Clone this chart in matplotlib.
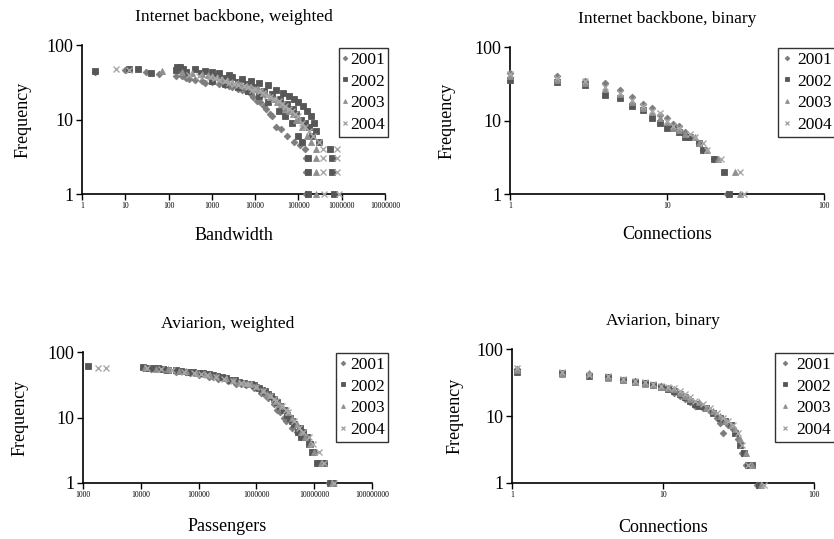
import numpy as np
import matplotlib
matplotlib.use("Agg")
from matplotlib import pyplot as plt
from matplotlib.ticker import FixedLocator, FixedFormatter, NullLocator

plt.rcParams['font.family'] = ['Liberation Serif', 'DejaVu Serif']

years = ['2001', '2002', '2003', '2004']

# Internet backbone, weighted (bandwidth, frequency)
ibw_x = {
    '2001': [2, 10, 30, 60, 150, 250, 400, 600, 1000, 1500, 2500, 4000, 6000, 9000, 13000,
             18000, 25000, 30000, 40000, 55000, 80000, 110000, 140000, 150000, 150000, 150000,
             200, 300, 700, 2000, 3000, 5000, 8000, 11000, 16000, 22000],
    '2002': [2, 12, 20, 40, 160, 180, 220, 400, 700, 1000, 1500, 2500, 3000, 5000, 8000, 12000,
             20000, 30000, 45000, 60000, 80000, 100000, 130000, 160000, 200000, 230000, 260000,
             300000, 170000, 170000, 170000, 550000, 600000, 600000, 650000,
             1000, 2000, 4000, 7000, 12000, 20000, 35000, 50000, 70000, 100000, 120000,
             150, 250, 550, 1300, 2000, 4000, 6500, 10000, 16000, 25000, 38000, 55000,
             75000, 90000, 115000, 140000, 180000, 210000],
    '2003': [70, 200, 350, 600, 1000, 1700, 3000, 5000, 8000, 12000, 18000, 27000, 40000, 60000,
             90000, 120000, 160000, 200000, 250000, 250000, 250000, 250000,
             800, 1300, 2200, 4000, 6500, 10000, 15000, 22000, 32000, 50000, 75000, 105000],
    '2004': [6, 12, 300, 500, 900, 1500, 2500, 4000, 7000, 10000, 15000, 22000, 35000, 50000,
             70000, 100000, 140000, 180000, 220000, 300000, 370000, 370000, 370000, 400000,
             800000, 800000, 800000, 850000,
             1200, 2000, 3200, 5500, 8500, 13000, 19000, 28000, 42000, 60000, 85000, 120000],
}
ibw_y = {
    '2001': [44, 46, 43, 41, 39, 36, 34, 33, 32, 30, 28, 26, 24, 20, 17,
             14, 11, 8, 7.5, 6, 5, 4.5, 4, 3, 2, 1,
             38, 35, 31, 29, 27, 25, 22, 18, 15, 12],
    '2002': [45, 47, 48, 42, 51, 50, 48, 47, 45, 44, 42, 40, 37, 35, 33, 31,
             29, 25, 23, 21, 19, 17, 15, 13, 11, 9, 7,
             5, 3, 2, 1, 4, 3, 2, 1,
             33, 30, 27, 24, 21, 17, 13, 11, 9, 6, 5,
             46, 43, 42, 39, 36, 32, 30, 27, 24, 22, 19, 16,
             14, 12, 10, 9, 8, 6],
    '2003': [45, 44, 42, 41, 38, 35, 32, 29, 27, 25, 22, 19, 16, 13,
             10, 8, 6, 5, 4, 3, 2, 1,
             40, 37, 34, 31, 28, 26, 23, 20, 17, 14, 12, 10],
    '2004': [47, 46, 40, 39, 37, 34, 31, 29, 27, 26, 23, 20, 18, 15,
             13, 11, 8, 7, 6, 5, 4, 3, 2, 1,
             4, 3, 2, 1,
             36, 33, 30, 28, 25, 24, 21, 19, 16, 14, 12, 9],
}

# Internet backbone, binary (connections, frequency)
ibb_x = {
    '2001': [1, 2, 3, 4, 5, 6, 7, 8, 9, 10, 11, 12, 13, 14, 16, 17, 20, 24],
    '2002': [1, 2, 3, 4, 5, 6, 7, 8, 9, 10, 11, 12, 13, 14, 16, 17, 20, 23, 25],
    '2003': [1, 2, 3, 4, 5, 6, 7, 8, 9, 10, 11, 12, 13, 15, 16, 18, 21, 27, 29],
    '2004': [1, 2, 3, 4, 5, 6, 7, 8, 9, 10, 11, 12, 14, 15, 17, 18, 22, 29, 31],
}
ibb_y = {
    '2001': [45, 40, 35, 32, 26, 21, 17, 15, 12, 11, 9, 8.5, 7, 6, 5, 4, 3, 1],
    '2002': [36, 33, 30, 22, 20, 16, 14, 11, 9.3, 8, 8, 7, 6, 6, 5, 4, 3, 2, 1],
    '2003': [40, 36, 32, 27, 23, 18, 15, 13, 11, 9.5, 8, 7.5, 6.5, 6, 5, 4, 3, 2, 1],
    '2004': [43, 38, 34, 29, 24, 19, 16, 13.5, 12.5, 10, 8.5, 8, 6.5, 6, 5, 4, 3, 2, 1],
}

# Aviarion, weighted (passengers, frequency)
avw_x = {
    '2001': [11000, 15000, 25000, 40000, 70000, 100000, 150000, 220000, 320000, 450000, 650000,
             900000, 1200000, 1600000, 2000000, 2600000, 3300000, 4200000, 5000000, 6000000,
             7000000, 8000000, 10000000, 13000000, 18000000,
             60000, 180000, 550000, 1400000, 2300000, 3000000],
    '2002': [1200, 11000, 13000, 20000, 30000, 50000, 80000, 120000, 180000, 250000, 350000,
             500000, 700000, 900000, 1100000, 1400000, 1800000, 2300000, 3000000, 3800000,
             4500000, 5200000, 6500000, 7500000, 8500000, 9500000, 12000000, 14000000,
             19000000, 21000000,
             16000, 24000, 40000, 65000, 100000, 150000, 210000, 300000, 420000, 600000,
             800000, 1000000, 1250000, 1600000, 2000000, 2600000, 3400000, 4200000, 5600000,
             6000000, 8000000, 9000000, 11000000, 13000000, 15000000],
    '2003': [12000, 18000, 30000, 60000, 90000, 130000, 200000, 300000, 400000, 600000, 800000,
             1000000, 1300000, 1700000, 2200000, 2800000, 3500000, 4200000, 5000000, 6000000,
             7000000, 8500000, 10000000, 13000000, 20000000,
             45000, 160000, 500000, 1500000, 2500000],
    '2004': [1800, 2500, 13000, 22000, 35000, 55000, 85000, 140000, 200000, 280000, 400000,
             550000, 750000, 1000000, 1300000, 1700000, 2200000, 2800000, 3500000, 4500000,
             5500000, 6500000, 8000000, 9500000, 12000000, 15000000, 22000000,
             110000, 650000, 2000000, 3200000],
}
avw_y = {
    '2001': [57, 55, 53, 50, 47, 45, 42, 39, 36, 33, 31, 28, 24, 20, 16, 12, 9, 7, 6, 5, 5, 4, 3, 2, 1,
             49, 41, 32, 22, 13, 10],
    '2002': [61, 60, 57, 58, 54, 52, 49, 47, 44, 41, 38, 35, 33, 31, 28, 25, 21, 17, 13, 10,
             8, 6, 6, 5, 4, 3, 2, 2, 1, 1,
             58, 55, 53, 50, 48, 46, 43, 40, 37, 34, 32, 29, 26, 23, 19, 15, 11, 9, 7,
             5, 4, 3, 2, 2, 2],
    '2003': [59, 56, 55, 51, 48, 46, 43, 40, 37, 34, 32, 30, 26, 22, 18, 15, 12, 10, 8, 6, 5, 4, 3, 2, 1,
             52, 44, 35, 23, 16],
    '2004': [58, 58, 58, 56, 53, 50, 48, 45, 42, 39, 36, 34, 32, 29, 25, 21, 18, 15, 12, 9,
             7, 6, 5, 4, 3, 2, 1,
             46, 33, 19, 13],
}

# Aviarion, binary (connections, frequency)
avb_x = {
    '2001': [1.08, 2.16, 3.24, 4.32, 5.4, 6.48, 7.56, 8.64, 9.72, 10.8, 11.9, 13.0, 14.0, 15.1,
             16.2, 18.4, 20.5, 22.7, 23.8, 24.8, 27.0, 29.2, 31.3, 33.5, 35.6, 37.8, 42.1],
    '2002': [1.08, 2.16, 3.24, 4.32, 5.4, 6.48, 7.56, 8.64, 9.72, 10.8, 11.9, 13.0, 14.0, 15.1,
             16.2, 17.3, 19.4, 21.6, 23.8, 25.9, 28.1, 30.2, 32.4, 34.6, 36.7, 38.9, 43.2],
    '2003': [1.08, 2.16, 3.24, 4.32, 5.4, 6.48, 7.56, 8.64, 9.72, 10.8, 11.9, 13.0, 14.0, 15.1,
             17.3, 19.4, 21.6, 23.8, 25.9, 28.1, 30.2, 32.4, 35.6, 38.9, 44.3],
    '2004': [1.08, 2.16, 3.24, 4.32, 5.4, 6.48, 7.56, 8.64, 9.72, 10.8, 11.9, 13.0, 14.0, 15.1,
             16.2, 18.4, 20.5, 22.7, 24.8, 27.0, 29.2, 31.3, 33.5, 36.7, 46.4],
}
avb_y = {
    '2001': [50, 43, 42, 38, 35, 33, 31, 29, 28, 26, 22, 20, 18, 16,
             14, 13, 12, 9.2, 7.8, 5.5, 7.4, 6.4, 4.6, 2.8, 1.84, 1.84, 0.92],
    '2002': [46, 44, 39, 38, 34, 32, 31, 29, 27, 25, 24, 21, 19, 17,
             15, 14, 13, 11, 9.2, 8.3, 7.4, 5.5, 3.7, 2.8, 1.84, 1.84, 0.92],
    '2003': [48, 43, 44, 37, 35, 32, 30, 29, 27, 26, 25, 22, 20, 18,
             16, 13, 12, 10, 8.3, 7.4, 6.4, 4.6, 2.8, 1.84, 0.92],
    '2004': [52, 45, 41, 39, 36, 33, 32, 30, 28, 27, 26, 24, 21, 19,
             17, 15, 13, 11, 9.2, 8.3, 7.4, 5.5, 3.7, 1.84, 0.92],
}

# marker style per year
styles = {
    '2001': dict(marker='D', color='#7d7d7d', ms=3.4),
    '2002': dict(marker='s', color='#575757', ms=4.0),
    '2003': dict(marker='^', color='#8f8f8f', ms=4.0),
    '2004': dict(marker='x', color='#a8a8a8', ms=4.0, mew=1.0),
}


def panel(rect, xs, ys, xticks, xticklabels, title, xlabel, ylab_x, xlab_y,
          leg_anchor, leg_loc, hl, htp):
    ax = fig.add_axes(rect)
    for yr in years:
        st = styles[yr]
        ax.plot(xs[yr], ys[yr], linestyle='none', marker=st['marker'], color=st['color'],
                markersize=st['ms'], markeredgewidth=st.get('mew', 0.6), label=yr,
                clip_on=False, zorder=3)
    ax.set_xscale('log')
    ax.set_yscale('log')
    ax.set_xlim(xticks[0], xticks[-1])
    ax.set_ylim(1, 100)
    ax.xaxis.set_major_locator(FixedLocator(xticks))
    ax.xaxis.set_major_formatter(FixedFormatter(xticklabels))
    ax.xaxis.set_minor_locator(NullLocator())
    ax.yaxis.set_major_locator(FixedLocator([1, 10, 100]))
    ax.yaxis.set_major_formatter(FixedFormatter(['1', '10', '100']))
    ax.yaxis.set_minor_locator(NullLocator())
    ax.tick_params(axis='x', labelsize=5.5, length=4, width=1, pad=2)
    ax.tick_params(axis='y', labelsize=13, length=4, width=1, pad=2)
    for s in ['top', 'right']:
        ax.spines[s].set_visible(False)
    for s in ['left', 'bottom']:
        ax.spines[s].set_linewidth(1.2)
    ax.set_title(title, fontsize=12.5, pad=17)
    ax.set_xlabel(xlabel, fontsize=13)
    ax.set_ylabel('Frequency', fontsize=13)
    ax.yaxis.set_label_coords(ylab_x, 0.5)
    ax.xaxis.set_label_coords(0.5, xlab_y)
    leg = ax.legend(loc=leg_loc, bbox_to_anchor=leg_anchor, bbox_transform=fig.transFigure,
                    fontsize=12.5, frameon=True, fancybox=False, edgecolor='black',
                    borderpad=0.2, labelspacing=0.33, handlelength=hl, handletextpad=htp,
                    borderaxespad=0, markerscale=0.7)
    leg.get_frame().set_linewidth(1.0)
    return ax


fig = plt.figure(figsize=(8.34, 5.39), dpi=100)

panel([0.0983, 0.640, 0.3633, 0.2764], ibw_x, ibw_y,
      [1, 10, 100, 1000, 10000, 100000, 1000000, 10000000],
      ['1', '10', '100', '1000', '10000', '100000', '1000000', '10000000'],
      'Internet backbone, weighted', 'Bandwidth', -0.165, -0.22,
      (388 / 834, 1 - 48 / 539), 'upper right', 0.3, 0.1)

panel([0.6115, 0.640, 0.3765, 0.2727], ibb_x, ibb_y,
      [1, 10, 100], ['1', '10', '100'],
      'Internet backbone, binary', 'Connections', -0.175, -0.22,
      (778 / 834, 1 - 48 / 539), 'upper left', 0.6, 0.3)

panel([0.0995, 0.1039, 0.3465, 0.2430], avw_x, avw_y,
      [1000, 10000, 100000, 1000000, 10000000, 100000000],
      ['1000', '10000', '100000', '1000000', '10000000', '100000000'],
      'Aviarion, weighted', 'Passengers', -0.19, -0.265,
      (388 / 834, 1 - 353 / 539), 'upper right', 0.45, 0.15)

panel([0.6139, 0.1039, 0.3621, 0.2486], avb_x, avb_y,
      [1, 10, 100], ['1', '10', '100'],
      'Aviarion, binary', 'Connections', -0.16, -0.265,
      (775 / 834, 1 - 353 / 539), 'upper left', 0.7, 0.35)

fig.savefig('out.png', dpi=100)
